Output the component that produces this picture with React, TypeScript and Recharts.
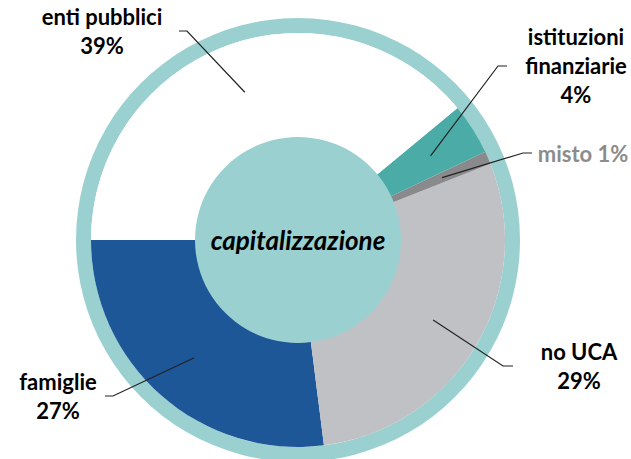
import { Pie, PieChart } from 'recharts'

const categories = ['famiglie', 'no UCA', 'misto', 'istituzioni finanziarie', 'enti pubblici']
const shares = [27, 29, 1, 4, 39]
const centerTitle = 'capitalizzazione'

const sliceColors = ['#1d5797', '#c0c1c5', '#8a8a8c', '#4aaba7', '#ffffff']
const ringColor = '#9ad1d0'

// label layout relative to pie centre: elbow of leader line, end of tail, text lines
const labelLayout = [
  { elbow: [-185, 156], end: [-193, 156], text: [-240, 150], lines: ['famiglie'], color: '#000' },
  { elbow: [205, 126], end: [215, 126], text: [281, 120], lines: ['no UCA'], color: '#000' },
  { elbow: [225, -87], end: [234, -87], text: [285, -78], lines: [], color: '#8c8c8c' },
  { elbow: [200, -174], end: [209, -174], text: [278, -195], lines: ['istituzioni', 'finanziarie'], color: '#000' },
  { elbow: [-111, -209], end: [-119, -209], text: [-196, -215], lines: ['enti pubblici'], color: '#000' },
]

const data = categories.map((name, i) => ({ name, value: shares[i], fill: sliceColors[i] }))
const ringData = [{ name: 'ring', value: 1, fill: ringColor }]
const centerData = [{ name: centerTitle, value: 1, fill: ringColor }]

const CX = 298
const CY = 240
const LINE_GAP = 29
const RAD = Math.PI / 180

const fontFamily = 'Lato, "Open Sans", sans-serif'

function renderLabel(props: any) {
  const { cx, cy, midAngle, index, percent, name } = props
  const lay = labelLayout[index]
  const r = 157
  const sx = cx + r * Math.cos(-midAngle * RAD)
  const sy = cy + r * Math.sin(-midAngle * RAD)
  const pct = `${Math.round(percent * 100)}%`
  const lines = lay.lines.length ? [...lay.lines, pct] : [`${name} ${pct}`]
  return (
    <g key={`lbl-${index}`}>
      <polyline
        points={`${sx},${sy} ${cx + lay.elbow[0]},${cy + lay.elbow[1]} ${cx + lay.end[0]},${cy + lay.end[1]}`}
        fill="none"
        stroke="#222"
        strokeWidth={1.2}
      />
      <text
        x={cx + lay.text[0]}
        y={cy + lay.text[1]}
        textAnchor="middle"
        fill={lay.color}
        fontFamily={fontFamily}
        fontWeight={700}
        fontSize={22}
      >
        {lines.map((ln, j) => (
          <tspan key={j} x={cx + lay.text[0]} dy={j === 0 ? 0 : LINE_GAP}>
            {ln}
          </tspan>
        ))}
      </text>
    </g>
  )
}

function renderCenter(props: any) {
  const { cx, cy } = props
  return (
    <text
      key="center"
      x={cx}
      y={cy + 10}
      textAnchor="middle"
      fill="#000"
      fontFamily={fontFamily}
      fontWeight={700}
      fontStyle="italic"
      fontSize={26}
    >
      {centerTitle}
    </text>
  )
}

export default function App() {
  return (
    <div style={{ position: 'absolute', left: 0, top: 0, background: '#fff' }}>
      <PieChart width={631} height={459} margin={{ top: 0, right: 0, bottom: 0, left: 0 }}>
        <Pie
          data={ringData}
          dataKey="value"
          cx={CX}
          cy={CY}
          innerRadius={207}
          outerRadius={222}
          stroke="none"
          isAnimationActive={false}
        />
        <Pie
          data={data}
          dataKey="value"
          cx={CX}
          cy={CY}
          innerRadius={0}
          outerRadius={207}
          startAngle={180}
          endAngle={540}
          stroke="none"
          label={renderLabel}
          labelLine={false}
          isAnimationActive={false}
        />
        <Pie
          data={centerData}
          dataKey="value"
          cx={CX}
          cy={CY}
          innerRadius={0}
          outerRadius={103}
          stroke="none"
          label={renderCenter}
          labelLine={false}
          isAnimationActive={false}
        />
      </PieChart>
    </div>
  )
}
